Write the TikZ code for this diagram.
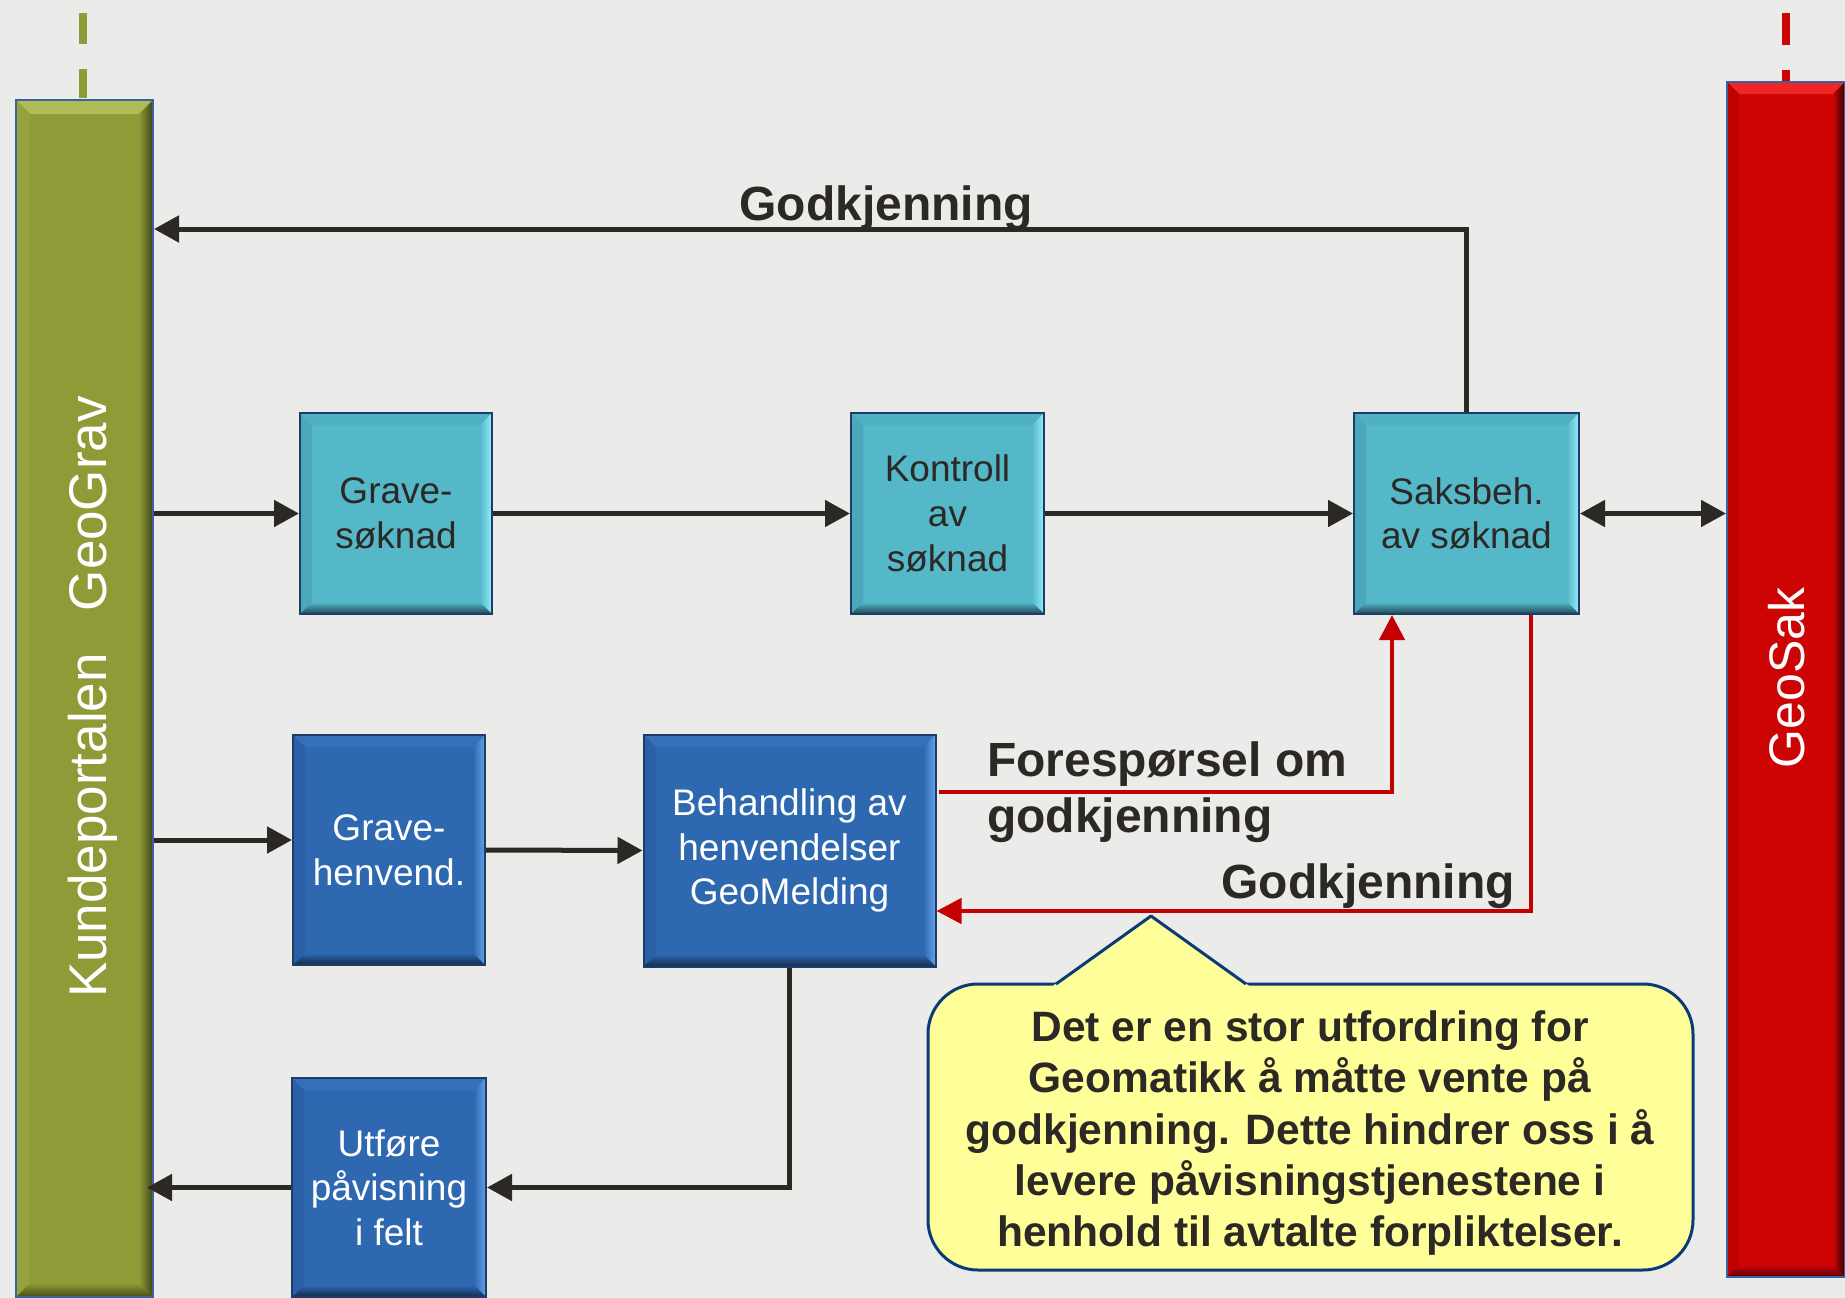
\documentclass[tikz,border=0pt]{standalone}
\usepackage{fontspec}
\setmainfont{Liberation Sans}
\usetikzlibrary{arrows.meta}
\definecolor{bg}{HTML}{EBEBE9}
\definecolor{darkText}{HTML}{2B2826}
\definecolor{arrowc}{HTML}{2B2826}
\definecolor{redline}{HTML}{C40000}
\definecolor{boxBorder}{HTML}{1E3C66}
\definecolor{barBorder}{HTML}{3A62A0}
\definecolor{callFill}{HTML}{FFFF99}
\definecolor{callBorder}{HTML}{0B3A78}
\definecolor{tealBase}{HTML}{55B8C9}
\definecolor{tealTop}{HTML}{4FB2C4}
\definecolor{tealLeft}{HTML}{4AA8BA}
\definecolor{tealRight}{HTML}{95ECFA}
\definecolor{tealBot}{HTML}{1E4652}
\definecolor{blueBase}{HTML}{2E68B1}
\definecolor{blueTop}{HTML}{3670BA}
\definecolor{blueLeft}{HTML}{2B60A6}
\definecolor{blueRight}{HTML}{64A2E8}
\definecolor{blueBot}{HTML}{122B4E}
\definecolor{greenBase}{HTML}{8F9B37}
\definecolor{greenTop}{HTML}{B0BC55}
\definecolor{greenLeft}{HTML}{96A23C}
\definecolor{greenRight}{HTML}{3E4616}
\definecolor{greenBot}{HTML}{454D1A}
\definecolor{redBase}{HTML}{CC0404}
\definecolor{redTop}{HTML}{EE2626}
\definecolor{redLeft}{HTML}{BD0000}
\definecolor{redRight}{HTML}{2A0000}
\definecolor{redBot}{HTML}{5A0000}
\def\bw{12pt}
\tikzset{
  bw/.code={\def\bw{#1}},
  bevel/.style={fill=#1Base, path picture={
    \fill[#1Top] (path picture bounding box.north west) -- (path picture bounding box.north east)
       -- ([xshift=-\bw,yshift=-\bw]path picture bounding box.north east)
       -- ([xshift=\bw,yshift=-\bw]path picture bounding box.north west) -- cycle;
    \fill[#1Left] (path picture bounding box.north west) -- (path picture bounding box.south west)
       -- ([xshift=\bw,yshift=\bw]path picture bounding box.south west)
       -- ([xshift=\bw,yshift=-\bw]path picture bounding box.north west) -- cycle;
    \shade[left color=#1Base, right color=#1Right] (path picture bounding box.north east) -- (path picture bounding box.south east)
       -- ([xshift=-\bw,yshift=\bw]path picture bounding box.south east)
       -- ([xshift=-\bw,yshift=-\bw]path picture bounding box.north east) -- cycle;
    \shade[top color=#1Base, bottom color=#1Bot] (path picture bounding box.south west) -- (path picture bounding box.south east)
       -- ([xshift=-\bw,yshift=\bw]path picture bounding box.south east)
       -- ([xshift=\bw,yshift=\bw]path picture bounding box.south west) -- cycle;
  }},
  tealbox/.style={bevel=teal, draw=boxBorder, line width=2pt, inner sep=0pt, align=center,
    text=darkText, font=\fontsize{37}{44.7}\selectfont},
  bluebox/.style={bevel=blue, draw=boxBorder, line width=2pt, inner sep=0pt, align=center,
    text=white, font=\fontsize{37}{44.7}\selectfont},
  arr/.style={draw=arrowc, line width=5pt, -{Triangle[length=25pt,width=26pt]}},
  dblarr/.style={draw=arrowc, line width=5pt, {Triangle[length=25pt,width=26pt]}-{Triangle[length=25pt,width=26pt]}},
  redarr/.style={draw=redline, line width=4.5pt, -{Triangle[length=25pt,width=25pt]}},
  lbl/.style={text=darkText, inner sep=0pt, font=\bfseries\fontsize{48}{56}\selectfont},
}
\begin{document}
\begin{tikzpicture}[x=1pt,y=-1pt]
\useasboundingbox (0,0) rectangle (1845,1298);
\fill[bg] (0,0) rectangle (1845,1298);

% dashed stubs above the bars
\draw[greenBase, line width=8pt, dash pattern=on 31pt off 25pt] (83,13) -- (83,98);
\draw[redBase, line width=8pt, dash pattern=on 32pt off 25pt] (1786,13) -- (1786,82);

% side bars
\node[bevel=green, bw=14pt, draw=barBorder, line width=2pt, inner sep=0pt,
      minimum width=137pt, minimum height=1197pt] (geograv) at (84.5,698.5) {};
\node[bevel=red, bw=12pt, draw=barBorder, line width=2pt, inner sep=0pt,
      minimum width=118pt, minimum height=1195pt] (geosak) at (1786,679.5) {};
\node[rotate=90, anchor=base, text=white, inner sep=0pt, font=\fontsize{53}{60}\selectfont]
      (kp) at (106,697) {Kundeportalen\hspace{42pt}GeoGrav};
\node[rotate=90, anchor=base, text=white, inner sep=0pt, font=\fontsize{50}{58}\selectfont]
      (gsak) at (1804,678) {GeoSak};

% process boxes
\node[tealbox, minimum width=192pt, minimum height=201pt] (gs) at (396,513.5) {Grave-\\søknad};
\node[tealbox, minimum width=193pt, minimum height=201pt] (ks) at (947.5,513.5) {Kontroll\\av\\søknad};
\node[tealbox, minimum width=225pt, minimum height=201pt] (saks) at (1466.5,513.5) {Saksbeh.\\av søknad};
\node[bluebox, minimum width=192pt, minimum height=230pt] (gh) at (389,850) {Grave-\\henvend.};
\node[bluebox, minimum width=292pt, minimum height=232pt] (beh) at (789.5,850.5) {Behandling av\\henvendelser\\GeoMelding};
\node[bluebox, minimum width=194pt, minimum height=219pt] (utf) at (389,1187.5) {Utføre\\påvisning\\i felt};

% helper coordinates
\coordinate (ytop) at (0,229);
\coordinate (yrow2) at (0,840);
\coordinate (r1) at (1392,792);
\coordinate (r2) at (1531,911);

% black connectors
\draw[arr] (geograv.east |- gs.west) -- (gs.west);
\draw[arr] (gs.east) -- (ks.west);
\draw[arr] (ks.east) -- (saks.west);
\draw[dblarr] (saks.east) -- (saks.east -| geosak.west);
\draw[arr] (saks.north) |- (geograv.east |- ytop);
\draw[arr] (geograv.east |- yrow2) -- (gh.west |- yrow2);
\draw[arr] (gh.east) -- (beh.west);
\draw[arr] (beh.south) |- (utf.east);
\draw[arr] (utf.west) -- ([xshift=-7pt]geograv.east |- utf.west);

% red connectors
\draw[redarr] ([xshift=2pt]beh.east |- r1) -| (saks.south -| r1);
\draw[redarr] (saks.south -| r2) |- (beh.east |- r2);

% labels
\node[lbl, anchor=base] (lgod1) at (886,220) {Godkjenning};
\node[lbl, anchor=west, align=left] (lfore) at (987,792.5) {Forespørsel om\\godkjenning};
\node[lbl, anchor=base east] (lgod2) at (1515,898) {Godkjenning};

% callout
\node[draw=callBorder, fill=callFill, line width=3pt, rounded corners=50pt,
      minimum width=765pt, minimum height=286pt, inner sep=0pt] (callout) at (1310.5,1127) {};
\fill[callFill] (1052,986.5) -- (1151,916) -- (1250,986.5) -- cycle;
\draw[callBorder, line width=3pt, line join=round] (1056,984) -- (1151,916) -- (1246,984);
\node[text=darkText, align=center, inner sep=0pt, font=\bfseries\fontsize{42.5}{51.3}\selectfont]
      (calltext) at (1310,1133) {Det er en stor utfordring for\\Geomatikk å måtte vente på\\godkjenning. Dette hindrer oss i å\\levere påvisningstjenestene i\\henhold til avtalte forpliktelser.};
\end{tikzpicture}
\end{document}
